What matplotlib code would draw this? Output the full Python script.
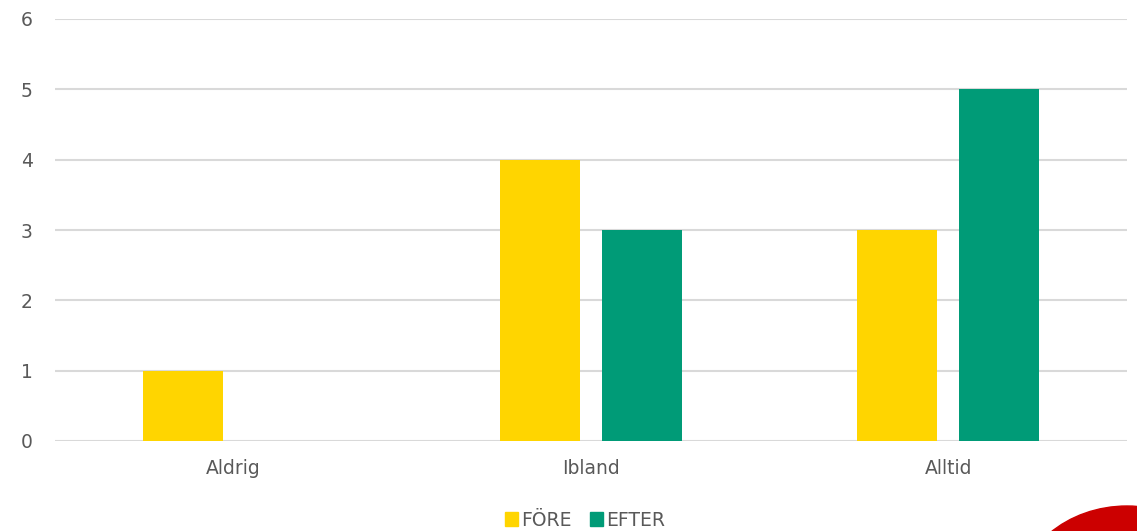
import matplotlib.pyplot as plt
from matplotlib.patches import Ellipse, Patch
import numpy as np

# Chart data.
categories = ["Aldrig", "Ibland", "Alltid"]
fore_values = [1, 4, 3]
efter_values = [0, 3, 5]
series_names = ["FÖRE", "EFTER"]

# Styling.
yellow = "#FFD500"
green = "#009B77"
text_grey = "#595959"
grid_grey = "#D9D9D9"

plt.rcParams["font.family"] = ["DejaVu Sans"]

fig = plt.figure(figsize=(11.37, 5.31), dpi=100)
ax = fig.add_axes([55 / 1137, 90 / 531, 1072 / 1137, 422 / 531])

x = np.arange(len(categories))
bar_w = 0.224
offset = 0.143

ax.bar(x - offset, fore_values, width=bar_w, color=yellow, zorder=3)
ax.bar(x + offset, efter_values, width=bar_w, color=green, zorder=3)

ax.set_xlim(-0.5, len(categories) - 0.5)
ax.set_ylim(0, 6)
ax.set_yticks(range(0, 7))
ax.set_xticks(x)
ax.set_xticklabels(categories)

# Grid lines and axis styling.
ax.yaxis.grid(True, color=grid_grey, linewidth=1.5, zorder=0)
for side in ["top", "right", "left", "bottom"]:
    ax.spines[side].set_visible(False)
ax.tick_params(axis="both", length=0, labelsize=13.5, colors=text_grey)
ax.tick_params(axis="y", pad=16)
ax.tick_params(axis="x", pad=13)

# Legend at bottom centre.
handles = [Patch(color=yellow), Patch(color=green)]
fig.legend(handles, series_names, loc="center", bbox_to_anchor=(585 / 1137, 1 - 520 / 531),
           ncol=2, frameon=False, fontsize=13.5, labelcolor=text_grey,
           handlelength=0.7, handleheight=0.7, handletextpad=0.15, columnspacing=1.0)

# Red decoration in the bottom right corner (pixel coordinates).
fig.add_artist(Ellipse((1127, 531 - 600), 220, 188, transform=None,
                       color="#CC0000", zorder=5))

fig.savefig("out.png", dpi=100)
